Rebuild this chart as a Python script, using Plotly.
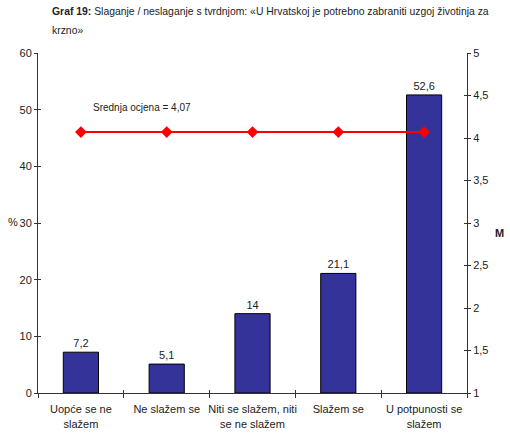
import plotly.graph_objects as go

categories = ["Uopće se ne<br>slažem", "Ne slažem se", "Niti se slažem, niti<br>se ne slažem",
              "Slažem se", "U potpunosti se<br>slažem"]
percent = [7.2, 5.1, 14, 21.1, 52.6]
mean_score = [4.07, 4.07, 4.07, 4.07, 4.07]
bar_labels = ["7,2", "5,1", "14", "21,1", "52,6"]
left_ticks = [0, 10, 20, 30, 40, 50, 60]
right_ticks = [1, 1.5, 2, 2.5, 3, 3.5, 4, 4.5, 5]
right_ticktext = ["1", "1,5", "2", "2,5", "3", "3,5", "4", "4,5", "5"]
boundaries = [-0.5, 0.5, 1.5, 2.5, 3.5, 4.5]

font = "Liberation Sans, Arial, sans-serif"
axis_col = "#333333"
plot_w = 510 - 38 - 43
plot_h = 434 - 53 - 41


def px_x(px):
    return (px - 38) / plot_w


def px_y(px):
    return (434 - 41 - px) / plot_h


fig = go.Figure()
fig.add_trace(go.Bar(
    x=categories, y=percent, text=bar_labels, textposition="outside",
    textfont=dict(size=11, color="#222"), cliponaxis=False,
    marker=dict(color="#333399", line=dict(color="black", width=1)),
    width=0.41, showlegend=False, hoverinfo="skip",
))
fig.add_trace(go.Scatter(
    x=categories, y=mean_score, yaxis="y2", mode="lines+markers",
    line=dict(color="#ff0000", width=2),
    marker=dict(symbol="diamond", size=9, color="#ff0000"),
    showlegend=False,
))
# ghost traces so the inner tick axes (for crossing ticks) get drawn
fig.add_trace(go.Scatter(x=[None], y=[None], xaxis="x2", yaxis="y3", showlegend=False))
fig.add_trace(go.Scatter(x=[None], y=[None], xaxis="x2", yaxis="y4", showlegend=False))

inner = dict(ticks="inside", ticklen=3, tickcolor=axis_col, showticklabels=False,
             showline=False, showgrid=False, zeroline=False, automargin=False)

fig.update_layout(
    width=510, height=434,
    margin=dict(l=38, r=43, t=53, b=41),
    paper_bgcolor="white", plot_bgcolor="white",
    font=dict(family=font, size=11, color="#222"),
    xaxis=dict(
        showline=True, linecolor=axis_col, linewidth=1, tickangle=0, automargin=False,
        ticks="outside", ticklen=4, tickson="boundaries", tickcolor=axis_col,
        showgrid=False, tickfont=dict(size=11), ticklabelstandoff=6,
    ),
    xaxis2=dict(overlaying="x", range=[-0.5, 4.5], tickvals=boundaries, **inner),
    yaxis=dict(
        range=[0, 60], tickvals=left_ticks, showline=True, linecolor=axis_col,
        ticks="outside", ticklen=3, tickcolor=axis_col, showgrid=False,
        zeroline=False, tickfont=dict(size=11), automargin=False,
    ),
    yaxis2=dict(
        range=[1, 5], tickvals=right_ticks, ticktext=right_ticktext,
        overlaying="y", side="right", showline=True, linecolor=axis_col,
        ticks="outside", ticklen=3, tickcolor=axis_col, showgrid=False,
        zeroline=False, tickfont=dict(size=11), automargin=False,
    ),
    yaxis3=dict(overlaying="y", range=[0, 60], tickvals=left_ticks, **inner),
    yaxis4=dict(overlaying="y", side="right", range=[1, 5], tickvals=right_ticks, **inner),
    bargap=0.59,
    annotations=[
        dict(text="<b>Graf 19:</b> Slaganje / neslaganje s tvrdnjom: «U Hrvatskoj je potrebno zabraniti uzgoj životinja za",
             xref="paper", yref="paper", x=px_x(50), y=px_y(11), xanchor="left", yanchor="middle",
             showarrow=False, font=dict(size=10.4, color="#222")),
        dict(text="krzno»", xref="paper", yref="paper", x=px_x(50), y=px_y(30),
             xanchor="left", yanchor="middle", showarrow=False,
             font=dict(size=10.4, color="#222")),
        dict(text="%", xref="paper", yref="paper", x=px_x(6), y=px_y(222),
             xanchor="left", yanchor="middle", showarrow=False, font=dict(size=11)),
        dict(text="<b>M</b>", xref="paper", yref="paper", x=px_x(493), y=px_y(233),
             xanchor="left", yanchor="middle", showarrow=False, font=dict(size=11)),
        dict(text="Srednja ocjena = 4,07", xref="paper", yref="paper", x=px_x(91), y=px_y(107),
             xanchor="left", yanchor="middle", showarrow=False, font=dict(size=10, color="#222")),
    ],
)

# the page body has a default 8px margin; drop it so the figure sits at the window corner
fig.write_html("out.html", config={"displayModeBar": False},
               post_script="document.body.style.margin='0';")
